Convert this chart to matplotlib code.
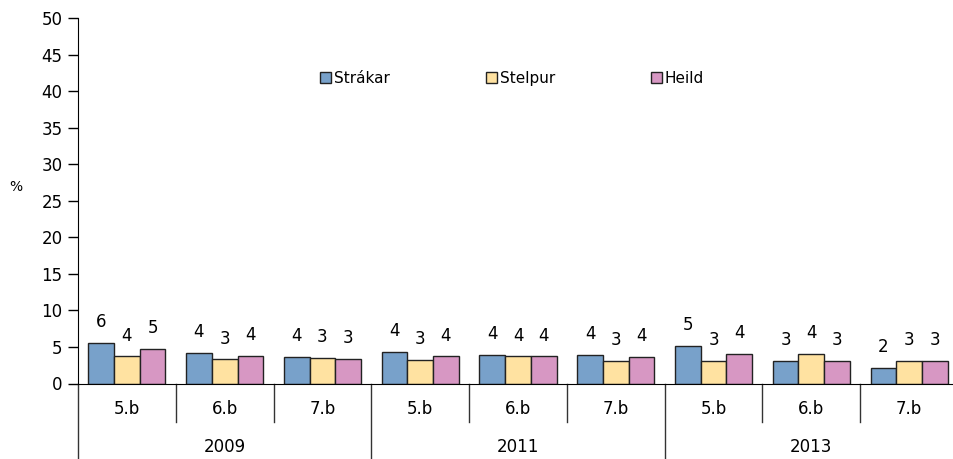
import numpy as np
import matplotlib
matplotlib.use("Agg")
from matplotlib import pyplot as plt
import matplotlib.transforms as mtransforms

years = ['2009', '2011', '2013']
grades = ['5.b', '6.b', '7.b']
series = ['Strákar', 'Stelpur', 'Heild']

strakar = [5.6, 4.2, 3.6, 4.3, 3.9, 3.9, 5.1, 3.1, 2.1]
stelpur = [3.7, 3.3, 3.45, 3.2, 3.7, 3.1, 3.1, 4.1, 3.1]
heild = [4.7, 3.8, 3.4, 3.7, 3.7, 3.6, 4.1, 3.1, 3.1]

colors = ['#78A1CA', '#FFE2A1', '#D797C3']

plt.rcParams['font.family'] = ['DejaVu Sans']

fig = plt.figure(figsize=(9.54, 4.59), dpi=100)
ax = fig.add_axes([78 / 954, 75.5 / 459, 880 / 954, 365.5 / 459])

x = np.arange(len(strakar))
w = 0.263
for i, (vals, name, c) in enumerate(zip([strakar, stelpur, heild], series, colors)):
    bars = ax.bar(x + (i - 1) * w, vals, w, color=c, edgecolor='#222222',
                  linewidth=1.0, label=name)
    ax.bar_label(bars, labels=[f"{v:.0f}" for v in vals], padding=8.5, fontsize=12)

ax.set_xlim(-0.5, len(x) - 0.5)
ax.set_ylim(0, 50)
ax.set_yticks(range(0, 51, 5))
ax.tick_params(axis='y', direction='out', length=7, width=1, pad=4, labelsize=12)
ax.set_xticks([])
for s in ['top', 'right']:
    ax.spines[s].set_visible(False)
ax.spines['left'].set_bounds(0, 50)

# multi-level x axis
trans = mtransforms.blended_transform_factory(ax.transData, ax.transAxes)
for k in range(len(x)):
    ax.text(k, -0.07, grades[k % 3], transform=trans, ha='center', va='center',
            fontsize=12)
for j, yr in enumerate(years):
    ax.text(j * 3 + 1, -0.174, yr, transform=trans, ha='center', va='center',
            fontsize=12)
for b in np.arange(-0.5, len(x), 1.0):
    bottom = -0.21 if (b + 0.5) % 3 == 0 else -0.105
    ax.plot([b, b], [0, bottom], transform=trans, color='#333333', lw=1,
            clip_on=False)

fig.text(16 / 954, 1 - 187 / 459, '%', ha='center', va='center', fontsize=10)

ax.legend(loc='center left', bbox_to_anchor=(320 / 954, 0.83), bbox_transform=fig.transFigure,
          ncol=3, frameon=False, fontsize=11, handlelength=0.7, handleheight=0.7,
          handletextpad=0.2, columnspacing=6.3, borderpad=0, borderaxespad=0)

fig.savefig('out.png', dpi=100)
